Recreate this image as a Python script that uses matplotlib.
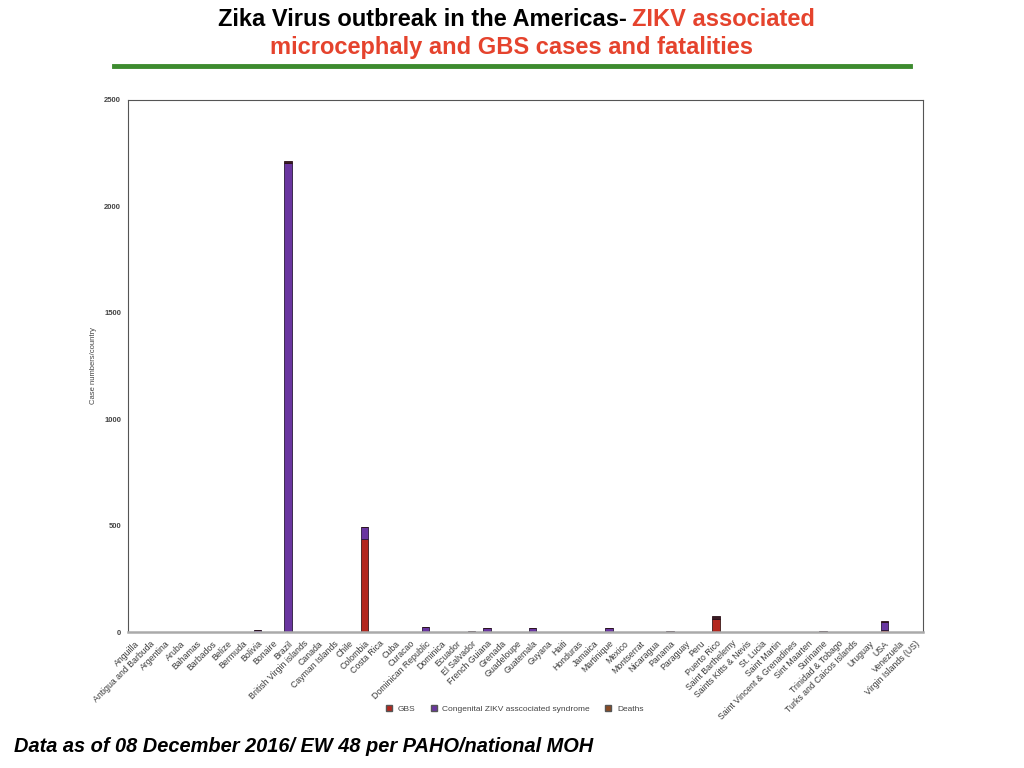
import numpy as np
import matplotlib
matplotlib.use('Agg')
import matplotlib.pyplot as plt
from matplotlib.lines import Line2D

plt.rcParams['font.family'] = ['Liberation Sans', 'DejaVu Sans']

countries = ['Anguilla', 'Antigua and Barbuda', 'Argentina', 'Aruba', 'Bahamas', 'Barbados',
             'Belize', 'Bermuda', 'Bolivia', 'Bonaire', 'Brazil', 'British Virgin islands',
             'Canada', 'Cayman Islands', 'Chile', 'Colombia', 'Costa Rica', 'Cuba', 'Curacao',
             'Dominican Republic', 'Dominica', 'Ecuador', 'El Salvador', 'French Guiana',
             'Grenada', 'Guadeloupe', 'Guatemala', 'Guyana', 'Haiti', 'Honduras', 'Jamaica',
             'Martinique', 'Mexico', 'Montserrat', 'Nicaragua', 'Panama', 'Paraguay', 'Peru',
             'Puerto Rico', 'Saint Barthelemy', 'Saints Kitts & Nevis', 'St. Lucia',
             'Saint Martin', 'Saint Vincent & Grenadines', 'Sint Maarten', 'Suriname',
             'Trinidad & Tobago', 'Turks and Caicos Islands', 'Uruguay', 'USA', 'Venezuela',
             'Virgin Islands (US)']

# GBS cases
gbs = [0, 0, 0, 0, 0, 0, 0, 0, 0, 0, 0, 0,
       0, 0, 0, 435, 0, 0, 0, 0, 0, 0, 0, 0,
       0, 0, 0, 0, 0, 0, 0, 0, 0, 0, 0, 0, 0, 0,
       62, 0, 0, 0, 0, 0, 0, 0, 0, 0, 0, 12, 0, 0]
# congenital ZIKV associated syndrome
congenital = [0, 0, 2, 0, 0, 0, 0, 0, 10, 0, 2205, 0,
              2, 0, 0, 60, 2, 0, 0, 25, 0, 0, 4, 20,
              1, 1, 18, 0, 1, 1, 0, 18, 1, 0, 0, 3, 1, 0,
              0, 0, 0, 0, 0, 0, 1, 5, 1, 0, 0, 36, 0, 0]
# deaths
deaths = [0, 0, 0, 0, 0, 0, 0, 0, 0, 0, 10, 0,
          0, 0, 0, 0, 0, 0, 0, 0, 0, 0, 0, 0,
          0, 0, 0, 0, 0, 0, 0, 0, 0, 0, 0, 0, 0, 0,
          14, 0, 0, 0, 0, 0, 0, 0, 0, 0, 0, 5, 0, 0]

gbs = np.array(gbs)
congenital = np.array(congenital)
deaths = np.array(deaths)
x = np.arange(len(countries))

fig = plt.figure(figsize=(10.24, 7.68), dpi=100)
ax = fig.add_axes([0.125, 0.177, 0.776, 0.693])

c_gbs = '#B3271E'
c_cong = '#6A36A0'
c_death = '#8A4A22'
w = 0.5
ax.bar(x, gbs, w, color=c_gbs, edgecolor='#3a1a1a', linewidth=0.6)
ax.bar(x, congenital, w, bottom=gbs, color=c_cong, edgecolor='#2a1a3a', linewidth=0.6)
ax.bar(x, deaths, w, bottom=gbs + congenital, color='#3a1a22', edgecolor='#2a1018', linewidth=0.6)

ax.set_xlim(-0.46, 51.5)
ax.set_ylim(0, 2500)
ax.set_yticks([0, 500, 1000, 1500, 2000, 2500])
ax.set_yticklabels(['0', '500', '1000', '1500', '2000', '2500'], fontsize=5.5,
                   color='#444444', fontweight='bold')
ax.set_xticks(x)
ax.set_xticklabels(countries, rotation=45, ha='right', rotation_mode='anchor',
                   fontsize=6.3, color='#3a3a3a')
ax.tick_params(axis='both', length=0, pad=5)
ax.set_ylabel('Case numbers/country', fontsize=5.5, color='#444444', labelpad=5)

for s in ['left', 'top', 'right']:
    ax.spines[s].set_color('#555555')
    ax.spines[s].set_linewidth(0.8)
ax.spines['bottom'].set_color('#aaaaaa')
ax.spines['bottom'].set_linewidth(1.8)

handles = [Line2D([], [], marker='s', ls='', color=c_gbs, markeredgecolor='#555', markersize=4),
           Line2D([], [], marker='s', ls='', color=c_cong, markeredgecolor='#555', markersize=4),
           Line2D([], [], marker='s', ls='', color=c_death, markeredgecolor='#555', markersize=4)]
fig.legend(handles, ['GBS', 'Congenital ZIKV asscociated syndrome', 'Deaths'],
           loc='center', bbox_to_anchor=(0.5, 0.077), ncol=3, frameon=False,
           fontsize=6, handletextpad=0.05, columnspacing=1.2, labelcolor='#444444')

# title, black + red parts
fig.text(0.612, 0.975, 'Zika Virus outbreak in the Americas-', fontsize=17,
         fontweight='bold', color='black', ha='right', va='center')
fig.text(0.617, 0.975, 'ZIKV associated', fontsize=17,
         fontweight='bold', color='#E5432D', ha='left', va='center')
fig.text(0.5, 0.938, 'microcephaly and GBS cases and fatalities', fontsize=17,
         fontweight='bold', color='#E5432D', ha='center', va='center')
fig.add_artist(Line2D([0.111, 0.889], [0.914, 0.914], color='#3D8B2F', linewidth=3.5))

fig.text(0.014, 0.028, 'Data as of 08 December 2016/ EW 48 per PAHO/national MOH',
         fontsize=14.4, fontweight='bold', fontstyle='italic', color='black',
         ha='left', va='center')

fig.savefig('out.png', dpi=100)
